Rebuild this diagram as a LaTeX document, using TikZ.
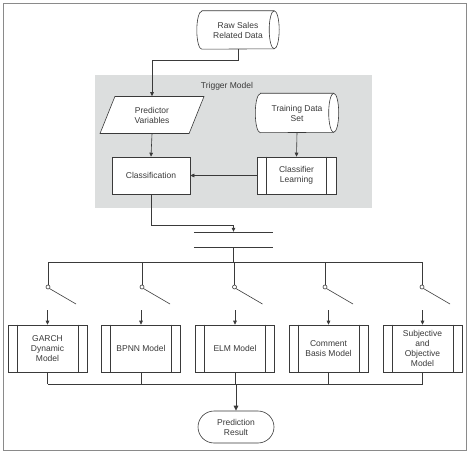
\documentclass[tikz,border=0pt]{standalone}
\usepackage{fontspec}
\setmainfont{Liberation Sans}
\usetikzlibrary{shapes.geometric,shapes.misc,arrows.meta,backgrounds}
\definecolor{panel}{HTML}{DCDEDE}
\definecolor{frame}{HTML}{8A8A8A}
\definecolor{ink}{HTML}{3A3A3A}
% #1 node name, #2 ellipse x radius, #3 half height
\newcommand\drawcylinder[3]{%
  \begin{scope}[on background layer]
    \draw[ln, fill=white] ([xshift=#2]#1.north west) -- ([xshift=-#2]#1.north east)
      arc[start angle=-90, end angle=90, x radius=#2, y radius=#3]
      -- ([xshift=#2]#1.south west)
      arc[start angle=90, end angle=270, x radius=#2, y radius=#3] -- cycle;
    \draw[ln] ([xshift=-#2]#1.north east)
      arc[start angle=-90, end angle=-270, x radius=#2, y radius=#3];
  \end{scope}}
\begin{document}
\begin{tikzpicture}[x=1pt,y=-1pt,
  every node/.style={font=\fontsize{8.5}{10}\selectfont, align=center, text=ink},
  ln/.style={draw=ink, line width=0.6pt},
  arr/.style={ln,-{Triangle[length=4pt,width=3.6pt]}},
  box/.style={draw=ink, line width=0.6pt, fill=white, inner sep=1pt},
  cylbody/.style={rectangle, inner sep=0pt},
  procbox/.style={box, rectangle, minimum width=79, minimum height=47},
  sw/.style={circle, draw=ink, line width=0.6pt, fill=white, inner sep=0pt, minimum size=4pt}
]
\useasboundingbox (0,0) rectangle (469,452);
\draw[frame, line width=1pt] (3,4) rectangle (466,450);

% trigger model panel
\begin{scope}[on background layer]
  \fill[panel] (95,75) rectangle (372,208);
\end{scope}
\node (title) at (227,86) {Trigger Model};

\node[cylbody, minimum width=82, minimum height=38] (raw) at (238,30) {Raw Sales\\Related Data};
\drawcylinder{raw}{5}{19}
\node[box, trapezium, trapezium left angle=68, trapezium right angle=112,
      trapezium stretches=true, minimum width=104, minimum height=37] (pv) at (152,115) {Predictor\\Variables};
\node[cylbody, minimum width=83, minimum height=39] (tds) at (297,113) {Training Data\\Set};
\drawcylinder{tds}{5}{19.5}
\node[box, rectangle, minimum width=78, minimum height=37] (cls) at (151,175.5) {Classification};
\node[box, rectangle, minimum width=79, minimum height=37] (cl) at (296.5,175.5) {Classifier\\Learning};
\draw[ln] ([xshift=10]cl.north west) -- ([xshift=10]cl.south west);
\draw[ln] ([xshift=-10]cl.north east) -- ([xshift=-10]cl.south east);

\draw[arr] (raw.south) -- ++(0,11) -| (pv.north);
\draw[arr] (pv.south) -- (cls.north);
\draw[arr] (tds.south) -- (cl.north);
\draw[arr] (cl.west) -- (cls.east);

% synchronisation bar
\node[minimum width=79, minimum height=15, inner sep=0pt] (sync) at (233.5,239.5) {};
\draw[ln] (sync.north west) -- (sync.north east);
\draw[ln] (sync.south west) -- (sync.south east);
\draw[arr] (cls.south) -- ++(0,31) -| (sync.north);

% bus
\coordinate (busL) at (48,262);
\coordinate (busR) at (422,262);
\draw[ln] (busL) -- (busR);
\draw[ln] (sync.south) -- (sync.south |- busL);

% models
\node[procbox] (m1) at (47.5,348.5) {GARCH\\Dynamic\\Model};
\node[procbox] (m2) at (141,348.5) {BPNN Model};
\node[procbox] (m3) at (235,348.5) {ELM Model};
\node[procbox] (m4) at (328.5,348.5) {Comment\\Basis Model};
\node[procbox] (m5) at (422.5,348.5) {Subjective\\and\\Objective\\Model};
\foreach \m in {m1,m2,m3,m4,m5}{
  \draw[ln] ([xshift=9.5]\m.north west) -- ([xshift=9.5]\m.south west);
  \draw[ln] ([xshift=-9.5]\m.north east) -- ([xshift=-9.5]\m.south east);
}

% switches
\foreach \i/\x/\m in {1/48/m1,2/142/m2,3/234.5/m3,4/325/m4,5/422/m5}{
  \node[sw] (s\i) at (\x,287) {};
  \coordinate (t\i) at (\x+28,304);
  \draw[ln] (\x,262) -- (s\i.north);
  \draw[ln] (s\i.south east) -- (t\i);
  \coordinate (a\i) at (\m.north |- 0,310);
  \draw[arr] (a\i) -- (\m.north);
}

% output
\node[box, rounded rectangle, minimum width=78, minimum height=32] (pr) at (236,427) {Prediction\\Result};
\coordinate (obL) at (m1.south |- 0,384);
\coordinate (obR) at (m5.south |- 0,384);
\draw[ln] (obL) -- (obR);
\foreach \m in {m1,m2,m3,m4,m5}{
  \draw[ln] (\m.south) -- (\m.south |- obL);
}
\draw[ln, line width=1pt, -{Triangle[length=5pt,width=4.5pt]}] (pr.north |- obL) -- (pr.north);
\end{tikzpicture}
\end{document}
